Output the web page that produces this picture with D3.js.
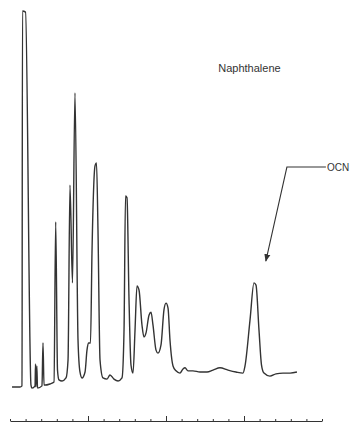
<!DOCTYPE html>
<html>
<head>
<meta charset="utf-8">
<script src="https://cdn.jsdelivr.net/npm/d3@7"></script>
<style>
body { margin: 0; background: #fff; }
svg { display: block; }
.trace { fill: none; stroke: #333; stroke-width: 1.4; stroke-linejoin: round; }
.axis path, .axis line { stroke: #333; stroke-width: 1; }
.label { font-family: "Liberation Sans", Arial, sans-serif; font-size: 11px; fill: #333; }
</style>
</head>
<body>
<svg id="chart" width="356" height="423"></svg>
<script>
// retention time (min) and detector response (% of full scale)
const time = [0.26, 1.28, 1.54, 1.60, 1.99, 2.69, 2.82, 3.21, 3.27, 3.33, 3.44, 3.53, 4.10, 4.23, 4.36,
    5.13, 5.64, 5.86, 6.09, 6.28, 6.67, 7.18, 7.44, 7.69, 8.01, 8.33, 8.72, 8.97, 9.23, 9.62,
    9.87, 10.06, 10.32, 10.51, 10.90, 11.09, 11.28, 11.54, 11.92, 12.44, 12.82, 13.33, 13.85, 14.36,
    14.62, 14.81, 15.00, 15.26, 15.51, 15.77, 16.03, 16.28, 16.54, 16.92, 17.18, 17.44, 17.82, 18.08,
    18.33, 18.72, 18.97, 19.36, 19.74, 20.00, 20.26, 20.51, 20.90, 21.28, 21.79, 22.18, 22.44, 22.82,
    23.46, 24.36, 25.26, 26.03, 26.92, 27.95, 28.97, 29.87, 30.13, 30.77, 31.28, 31.54, 31.92, 32.24,
    32.56, 33.33, 34.10, 35.00, 35.90, 36.79];
const signal = [0, 0, 0.3, 100, 99.7, 0.5, -0.3, 0.3, 6.1, 0, 5.6, -0.3, 0.3, 11.7, 0.5,
    0.8, 1.3, 43.9, 4.5, 1.9, 1.6, 2.4, 7.2, 53.7, 27.7, 78.2, 12.5, 4.0, 2.4, 4.0,
    9.8, 11.7, 11.7, 35.6, 58.8, 59.6, 41.8, 7.2, 2.4, 2.1, 3.2, 2.1, 1.6, 2.4,
    15.2, 50.8, 50.3, 23.1, 5.9, 3.7, 15.2, 26.9, 25.8, 16.5, 13.3, 14.4, 19.1, 19.9,
    16.5, 9.8, 9.0, 11.2, 20.5, 22.3, 21.0, 12.5, 5.6, 4.3, 3.7, 4.8, 5.1, 4.3,
    4.3, 4.0, 4.0, 4.5, 5.1, 4.5, 4.0, 3.7, 5.6, 17.8, 27.7, 27.1, 15.2, 5.9,
    3.7, 2.9, 3.5, 3.7, 3.7, 4.0];

const minorTicks = d3.range(0, 41, 2);
const majorTicks = [10, 20, 30];

// annotations: [time, signal]
const naphLabel = { text: "Naphthalene", t: 26.7, r: 83.8 };
const ocn = { text: "OCN", tip: [32.8, 33.5], elbow: [35.5, 58.5], end: [40.5, 58.5] };

const svg = d3.select("#chart");
const x = d3.scaleLinear().domain([0, 40]).range([10, 322]);
const y = d3.scaleLinear().domain([0, 100]).range([387, 11]);
const axisY = 421;

const pts = time.map(function (t, i) { return [t, signal[i]]; });

svg.append("path")
    .attr("class", "trace")
    .attr("d", d3.line()
        .x(function (d) { return x(d[0]); })
        .y(function (d) { return y(d[1]); })
        .curve(d3.curveMonotoneX)(pts));

// time axis, ticks pointing up
svg.append("g")
    .attr("class", "axis")
    .attr("transform", "translate(0," + axisY + ")")
    .call(d3.axisBottom(x).tickValues(minorTicks).tickSize(-2).tickSizeOuter(0).tickFormat(""))
    .selectAll(".tick line")
    .attr("y2", function (d) { return majorTicks.indexOf(d) >= 0 ? -5 : -2; });

svg.append("text")
    .attr("class", "label")
    .attr("x", x(naphLabel.t))
    .attr("y", y(naphLabel.r))
    .text(naphLabel.text);

// OCN leader with arrow
svg.append("defs").append("marker")
    .attr("id", "arrow")
    .attr("viewBox", "0 0 10 10")
    .attr("refX", 9).attr("refY", 5)
    .attr("markerWidth", 7).attr("markerHeight", 7)
    .attr("orient", "auto")
    .append("path")
    .attr("d", "M0,1 L10,5 L0,9 Z")
    .attr("fill", "#333");

svg.append("path")
    .attr("d", d3.line()([
        [x(ocn.end[0]), y(ocn.end[1])],
        [x(ocn.elbow[0]), y(ocn.elbow[1])],
        [x(ocn.tip[0]), y(ocn.tip[1])]
    ]))
    .attr("fill", "none")
    .attr("stroke", "#333")
    .attr("stroke-width", 1.1)
    .attr("marker-end", "url(#arrow)");

svg.append("text")
    .attr("class", "label")
    .attr("x", x(ocn.end[0]) + 1)
    .attr("y", y(ocn.end[1]) + 4)
    .style("font-size", "10px")
    .text(ocn.text);
</script>
</body>
</html>
